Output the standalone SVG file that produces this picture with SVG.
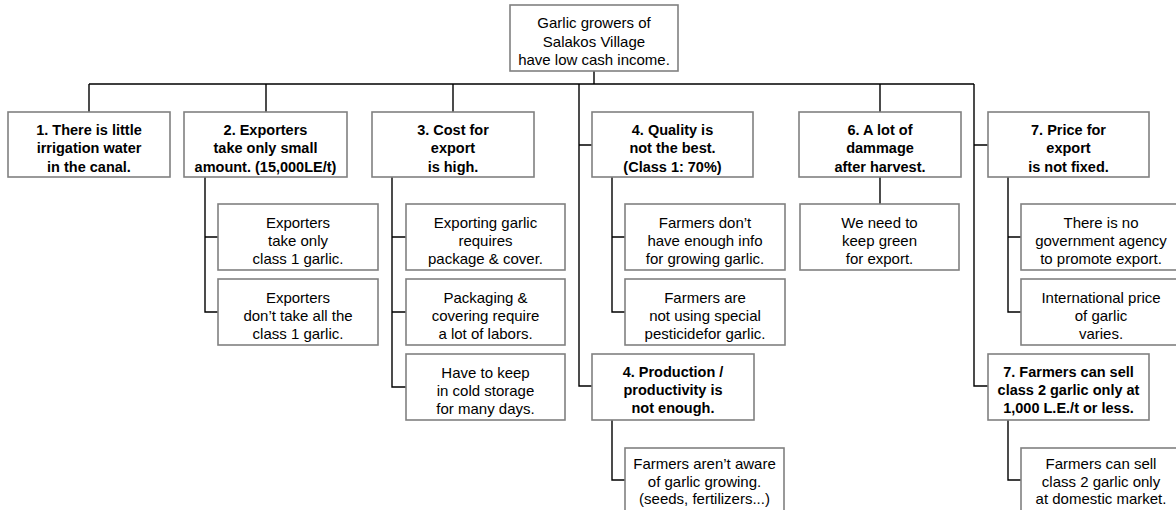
<svg xmlns="http://www.w3.org/2000/svg" width="1176" height="510" viewBox="0 0 1176 510">
<style>
.box{fill:#ffffff;stroke:#808080;stroke-width:1.6}
.t{font-family:"Liberation Sans",Arial,sans-serif;font-size:15px;fill:#000;text-anchor:middle}
.b{font-weight:bold;font-size:14.5px}
.c{fill:none;stroke:#000;stroke-width:1.4}
</style>
<rect width="1176" height="510" fill="#ffffff"/>
<g id="connectors">
<path class="c" d="M594 71V84M89 84H974M89 84V112M266 84V112M453 84V112M880 84V112"/>
<path class="c" d="M579 84V386H592M579 145H592"/>
<path class="c" d="M974 84V386H988M974 145H988"/>
<path class="c" d="M205 177V312H218M205 237H218"/>
<path class="c" d="M392 177V387H406M392 237H406M392 312H406"/>
<path class="c" d="M612 177V312H625M612 237H625"/>
<path class="c" d="M880 177V204"/>
<path class="c" d="M1008 177V312H1021M1008 237H1021"/>
<path class="c" d="M612 420V480H625"/>
<path class="c" d="M1008 420V480H1021"/>
</g>
<g id="root"><rect class="box" x="510" y="5" width="168" height="66"/>
<text class="t" x="594" y="28">Garlic growers of</text><text class="t" x="594" y="47">Salakos Village</text><text class="t" x="594" y="65">have low cash income.</text></g>
<g id="n1"><rect class="box" x="8" y="112" width="162" height="65"/>
<text class="t b" x="89" y="134.5">1. There is little</text><text class="t b" x="89" y="153">irrigation water</text><text class="t b" x="89" y="171.5">in the canal.</text></g>
<g id="n2"><rect class="box" x="184" y="112" width="163" height="65"/>
<text class="t b" x="265.5" y="134.5">2. Exporters</text><text class="t b" x="265.5" y="153">take only small</text><text class="t b" x="265.5" y="171.5">amount. (15,000LE/t)</text></g>
<g id="n3"><rect class="box" x="372" y="112" width="162" height="65"/>
<text class="t b" x="453" y="134.5">3. Cost for</text><text class="t b" x="453" y="153">export</text><text class="t b" x="453" y="171.5">is high.</text></g>
<g id="n4"><rect class="box" x="592" y="112" width="161" height="65"/>
<text class="t b" x="672.5" y="134.5">4. Quality is</text><text class="t b" x="672.5" y="153">not the best.</text><text class="t b" x="672.5" y="171.5">(Class 1: 70%)</text></g>
<g id="n6"><rect class="box" x="799" y="112" width="162" height="65"/>
<text class="t b" x="880" y="134.5">6. A lot of</text><text class="t b" x="880" y="153">dammage</text><text class="t b" x="880" y="171.5">after harvest.</text></g>
<g id="n7"><rect class="box" x="988" y="112" width="161" height="65"/>
<text class="t b" x="1068.5" y="134.5">7. Price for</text><text class="t b" x="1068.5" y="153">export</text><text class="t b" x="1068.5" y="171.5">is not fixed.</text></g>
<g id="n2a"><rect class="box" x="218" y="204" width="160" height="66"/>
<text class="t" x="298" y="228">Exporters</text><text class="t" x="298" y="246">take only</text><text class="t" x="298" y="264">class 1 garlic.</text></g>
<g id="n2b"><rect class="box" x="218" y="279" width="160" height="66"/>
<text class="t" x="298" y="303">Exporters</text><text class="t" x="298" y="321">don’t take all the</text><text class="t" x="298" y="339">class 1 garlic.</text></g>
<g id="n3a"><rect class="box" x="406" y="204" width="159" height="66"/>
<text class="t" x="485.5" y="228">Exporting garlic</text><text class="t" x="485.5" y="246">requires</text><text class="t" x="485.5" y="264">package &amp; cover.</text></g>
<g id="n3b"><rect class="box" x="406" y="279" width="159" height="66"/>
<text class="t" x="485.5" y="303">Packaging &amp;</text><text class="t" x="485.5" y="321">covering require</text><text class="t" x="485.5" y="339">a lot of labors.</text></g>
<g id="n3c"><rect class="box" x="406" y="354" width="159" height="66"/>
<text class="t" x="485.5" y="378">Have to keep</text><text class="t" x="485.5" y="396">in cold storage</text><text class="t" x="485.5" y="414">for many days.</text></g>
<g id="n4a"><rect class="box" x="625" y="204" width="160" height="66"/>
<text class="t" x="705" y="228">Farmers don’t</text><text class="t" x="705" y="246">have enough info</text><text class="t" x="705" y="264">for growing garlic.</text></g>
<g id="n4b"><rect class="box" x="625" y="279" width="160" height="66"/>
<text class="t" x="705" y="303">Farmers are</text><text class="t" x="705" y="321">not using special</text><text class="t" x="705" y="339">pesticidefor garlic.</text></g>
<g id="n5"><rect class="box" x="592" y="354" width="162" height="66"/>
<text class="t b" x="673" y="377">4. Production /</text><text class="t b" x="673" y="395">productivity is</text><text class="t b" x="673" y="413">not enough.</text></g>
<g id="n5a"><rect class="box" x="625" y="448" width="159" height="66"/>
<text class="t" x="704.5" y="469">Farmers aren’t aware</text><text class="t" x="704.5" y="487">of garlic growing.</text><text class="t" x="704.5" y="504">(seeds, fertilizers...)</text></g>
<g id="n6a"><rect class="box" x="800" y="204" width="159" height="66"/>
<text class="t" x="879.5" y="228">We need to</text><text class="t" x="879.5" y="246">keep green</text><text class="t" x="879.5" y="264">for export.</text></g>
<g id="n7a"><rect class="box" x="1021" y="204" width="160" height="66"/>
<text class="t" x="1101" y="228">There is no</text><text class="t" x="1101" y="246">government agency</text><text class="t" x="1101" y="264">to promote export.</text></g>
<g id="n7b"><rect class="box" x="1021" y="279" width="160" height="66"/>
<text class="t" x="1101" y="303">International price</text><text class="t" x="1101" y="321">of garlic</text><text class="t" x="1101" y="339">varies.</text></g>
<g id="n8"><rect class="box" x="988" y="354" width="161" height="66"/>
<text class="t b" x="1068.5" y="377">7. Farmers can sell</text><text class="t b" x="1068.5" y="395">class 2 garlic only at</text><text class="t b" x="1068.5" y="413">1,000 L.E./t or less.</text></g>
<g id="n8a"><rect class="box" x="1021" y="448" width="160" height="66"/>
<text class="t" x="1101" y="469">Farmers can sell</text><text class="t" x="1101" y="487">class 2 garlic only</text><text class="t" x="1101" y="504">at domestic market.</text></g>
</svg>
